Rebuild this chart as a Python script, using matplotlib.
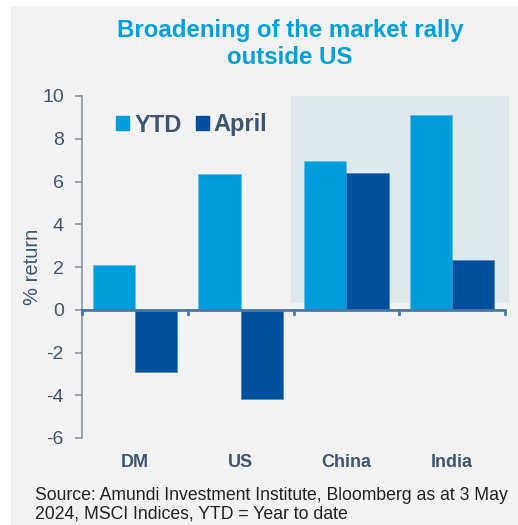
import matplotlib
matplotlib.use("Agg")
import matplotlib.pyplot as plt
from matplotlib.patches import Rectangle
import matplotlib.transforms as mtrans

categories = ["DM", "US", "China", "India"]
ytd = [2.1, 6.36, 6.95, 9.13]
april = [-2.93, -4.16, 6.39, 2.32]
yticks = [-6, -4, -2, 0, 2, 4, 6, 8, 10]

C_YTD = "#009ddc"
C_APR = "#00509e"
C_TXT = "#3b5673"
C_TITLE = "#00a0dc"
C_BG = "#f2f2f2"
C_SHADE = "#dfe9eb"

plt.rcParams['font.family'] = ['Liberation Sans', 'DejaVu Sans']

W, H = 518, 525
fig = plt.figure(figsize=(W/100, H/100), dpi=100)
fig.patch.set_facecolor("white")
fig.patches.append(Rectangle((11/W, 0), 1 - 11/W, 1 - 6/H, transform=fig.transFigure,
                             facecolor=C_BG, edgecolor="none", zorder=-10))

ax = fig.add_axes([82/W, 1 - 438/H, (505-82)/W, (438-96)/H])
ax.set_facecolor("none")
ax.set_xlim(-0.5, 3.5)
ax.set_ylim(-6, 10)

# shaded highlight region
ax.add_patch(Rectangle((1.476, 0.3), 3.538 - 1.476, 10 - 0.3, facecolor=C_SHADE,
                       edgecolor="none", clip_on=False, zorder=0))

x = list(range(len(categories)))
w = 0.4
ax.bar([i - w/2 for i in x], ytd, width=w, color=C_YTD, zorder=2, edgecolor="#5bbde8", linewidth=0.5)
ax.bar([i + w/2 for i in x], april, width=w, color=C_APR, zorder=2, edgecolor="#4d7fb8", linewidth=0.5)

# spines
for s in ["top", "right", "bottom"]:
    ax.spines[s].set_visible(False)
ax.spines["left"].set_color("#8a96a3")
ax.spines["left"].set_linewidth(1.2)
ax.axhline(0, color="#4a78a3", linewidth=2, zorder=3)
ax.set_yticks(yticks)
ax.set_yticklabels([str(v) for v in yticks], fontsize=14, color=C_TXT)
ax.tick_params(axis="y", direction="out", length=5, width=1.2, color="#8a96a3", pad=8)

ax.set_xticks([])
for b in [-0.5, 0.5, 1.5, 2.5, 3.5]:
    ax.plot([b, b], [0, -0.2], color="#4a78a3", linewidth=2, clip_on=False, zorder=3)

trans = mtrans.blended_transform_factory(ax.transData, ax.transAxes)
for i, c in enumerate(categories):
    ax.text(i, -0.072, c, transform=trans, ha="center", va="center", fontsize=13,
            fontweight="bold", color=C_TXT)

ax.set_ylabel("% return", fontsize=14.5, color=C_TXT)
ax.yaxis.set_label_coords((42 - 82) / 423, 0.5)

handles = [Rectangle((0, 0), 1, 1, color=C_YTD), Rectangle((0, 0), 1, 1, color=C_APR)]
leg = ax.legend(handles, ["YTD", "April"], loc="center left",
                bbox_to_anchor=((116-82)/423, (438-125)/342),
                frameon=False, ncol=2, prop={"weight": "bold", "size": 17},
                borderaxespad=0, borderpad=0,
                handlelength=0.55, handleheight=0.55, handletextpad=0.22, columnspacing=0.6,
                labelcolor=C_TXT)

fig.text(290/W, 1 - 30/H, "Broadening of the market rally", ha="center", va="center",
         fontsize=17.3, fontweight="bold", color=C_TITLE)
fig.text(290/W, 1 - 57/H, "outside US", ha="center", va="center",
         fontsize=17.3, fontweight="bold", color=C_TITLE)

fig.text(35/W, 1 - 496/H, "Source: Amundi Investment Institute, Bloomberg as at 3 May", ha="left",
         va="center", fontsize=12.7, color="#222222")
fig.text(35/W, 1 - 514/H, "2024, MSCI Indices, YTD = Year to date", ha="left",
         va="center", fontsize=12.7, color="#222222")

fig.savefig("out.png", dpi=100)
